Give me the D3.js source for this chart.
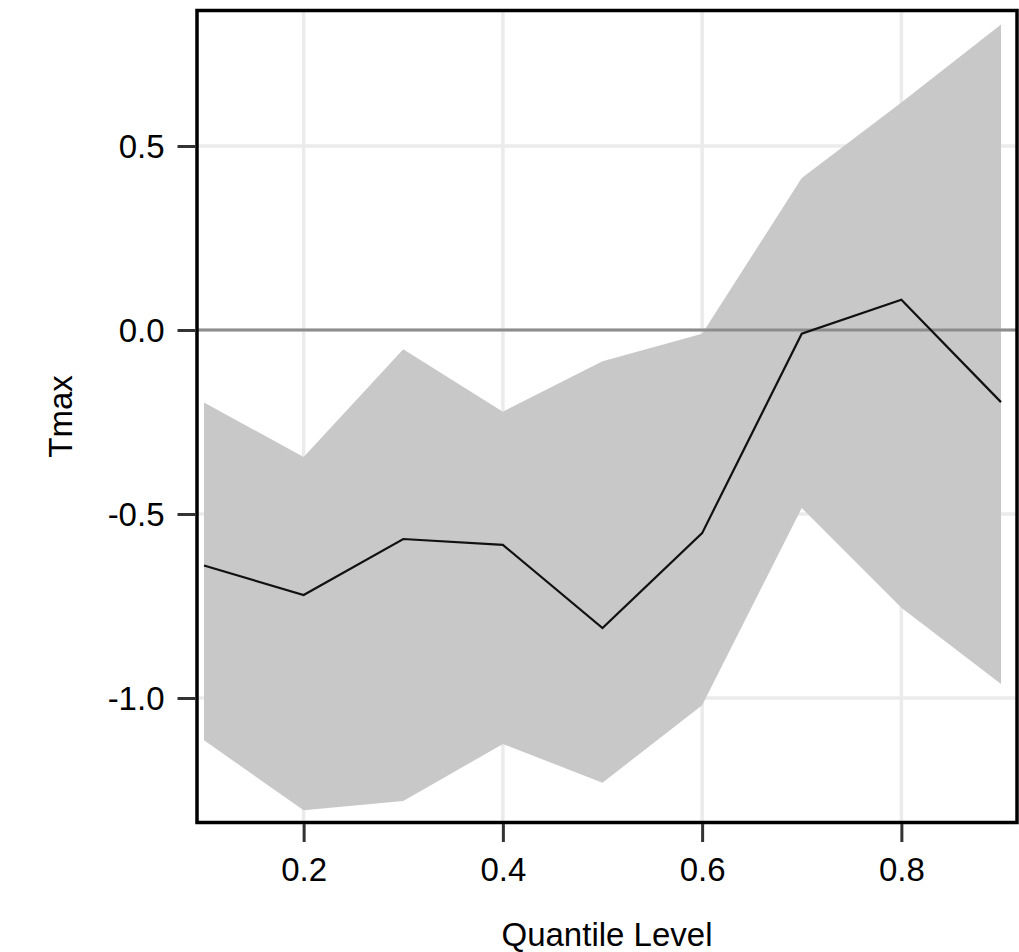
<!DOCTYPE html>
<html lang="en">
<head>
<meta charset="UTF-8">
<title>Tmax quantile coefficients</title>
<script src="https://cdn.jsdelivr.net/npm/d3@7"></script>
<style>
  body { margin: 0; background: #fff; }
  text { font-family: "Liberation Sans", Arial, sans-serif; }
</style>
</head>
<body>
<script type="text/javascript">
var quantiles = [0.1, 0.2, 0.3, 0.4, 0.5, 0.6, 0.7, 0.8, 0.9],
    estimate  = [-0.64, -0.72, -0.568, -0.584, -0.81, -0.552, -0.01, 0.082, -0.196],
    upper     = [-0.197, -0.345, -0.052, -0.222, -0.085, -0.01, 0.413, 0.618, 0.83],
    lower     = [-1.115, -1.305, -1.28, -1.125, -1.23, -1.02, -0.484, -0.755, -0.962],
    xTicks    = [0.2, 0.4, 0.6, 0.8],
    yTicks    = [-1.0, -0.5, 0.0, 0.5];

var w = 1019, h = 952,
    panel = { left: 197, right: 1017, top: 10.5, bottom: 822.5 };

var x = d3.scaleLinear().domain([0.1, 0.9]).range([204, 1001]);
var y = d3.scaleLinear().domain([0, 0.5]).range([330, 146]);

// plain hyphen for negatives, like the original
var fmt = function(d) { return d.toFixed(1); };

var svg = d3.select("body")
    .append("svg")
    .attr("width", w)
    .attr("height", h);

// grid
svg.selectAll("line.vgrid")
    .data(xTicks)
    .enter()
    .append("line")
    .attr("x1", function(d) { return x(d); })
    .attr("x2", function(d) { return x(d); })
    .attr("y1", panel.top)
    .attr("y2", panel.bottom)
    .attr("stroke", "#ebebeb")
    .attr("stroke-width", 3.5);

svg.selectAll("line.hgrid")
    .data(yTicks)
    .enter()
    .append("line")
    .attr("x1", panel.left)
    .attr("x2", panel.right)
    .attr("y1", function(d) { return y(d); })
    .attr("y2", function(d) { return y(d); })
    .attr("stroke", "#ebebeb")
    .attr("stroke-width", 3.5);

var rows = quantiles.map(function(q, i) {
    return { q: q, est: estimate[i], lo: lower[i], hi: upper[i] };
});

// confidence band
svg.append("path")
    .datum(rows)
    .attr("fill", "#c8c8c8")
    .attr("d", d3.area()
        .x(function(d) { return x(d.q); })
        .y0(function(d) { return y(d.lo); })
        .y1(function(d) { return y(d.hi); }));

// zero reference line
svg.append("line")
    .attr("x1", panel.left)
    .attr("x2", panel.right)
    .attr("y1", y(0))
    .attr("y2", y(0))
    .attr("stroke", "#8c8c8c")
    .attr("stroke-width", 3);

// estimate line
svg.append("path")
    .datum(rows)
    .attr("fill", "none")
    .attr("stroke", "#111")
    .attr("stroke-width", 2.2)
    .attr("d", d3.line()
        .x(function(d) { return x(d.q); })
        .y(function(d) { return y(d.est); }));

// panel border
svg.append("rect")
    .attr("x", panel.left)
    .attr("y", panel.top)
    .attr("width", panel.right - panel.left)
    .attr("height", panel.bottom - panel.top)
    .attr("fill", "none")
    .attr("stroke", "#000")
    .attr("stroke-width", 3.5);

// axes
var xAxis = svg.append("g")
    .attr("transform", "translate(0," + (panel.bottom + 1.5) + ")")
    .call(d3.axisBottom(x).tickValues(xTicks).tickSize(18).tickPadding(16)
        .tickFormat(fmt));

var yAxis = svg.append("g")
    .attr("transform", "translate(" + (panel.left - 1.5) + ",0)")
    .call(d3.axisLeft(y).tickValues(yTicks).tickSize(18).tickPadding(13)
        .tickFormat(fmt));

[xAxis, yAxis].forEach(function(g) {
    g.select(".domain").remove();
    g.selectAll(".tick line").attr("stroke", "#333").attr("stroke-width", 3);
    g.selectAll(".tick text")
        .attr("fill", "#000")
        .attr("font-size", "33px")
        .attr("font-family", "Liberation Sans, Arial, sans-serif");
});
yAxis.selectAll(".tick text").attr("dy", "0.36em");

// axis titles
svg.append("text")
    .attr("x", (panel.left + panel.right) / 2)
    .attr("y", 946)
    .attr("text-anchor", "middle")
    .attr("font-size", "33px")
    .attr("fill", "#000")
    .text("Quantile Level");

svg.append("text")
    .attr("transform", "translate(72," + ((panel.top + panel.bottom) / 2) + ") rotate(-90)")
    .attr("text-anchor", "middle")
    .attr("font-size", "33px")
    .attr("fill", "#000")
    .text("Tmax");
</script>
</body>
</html>
